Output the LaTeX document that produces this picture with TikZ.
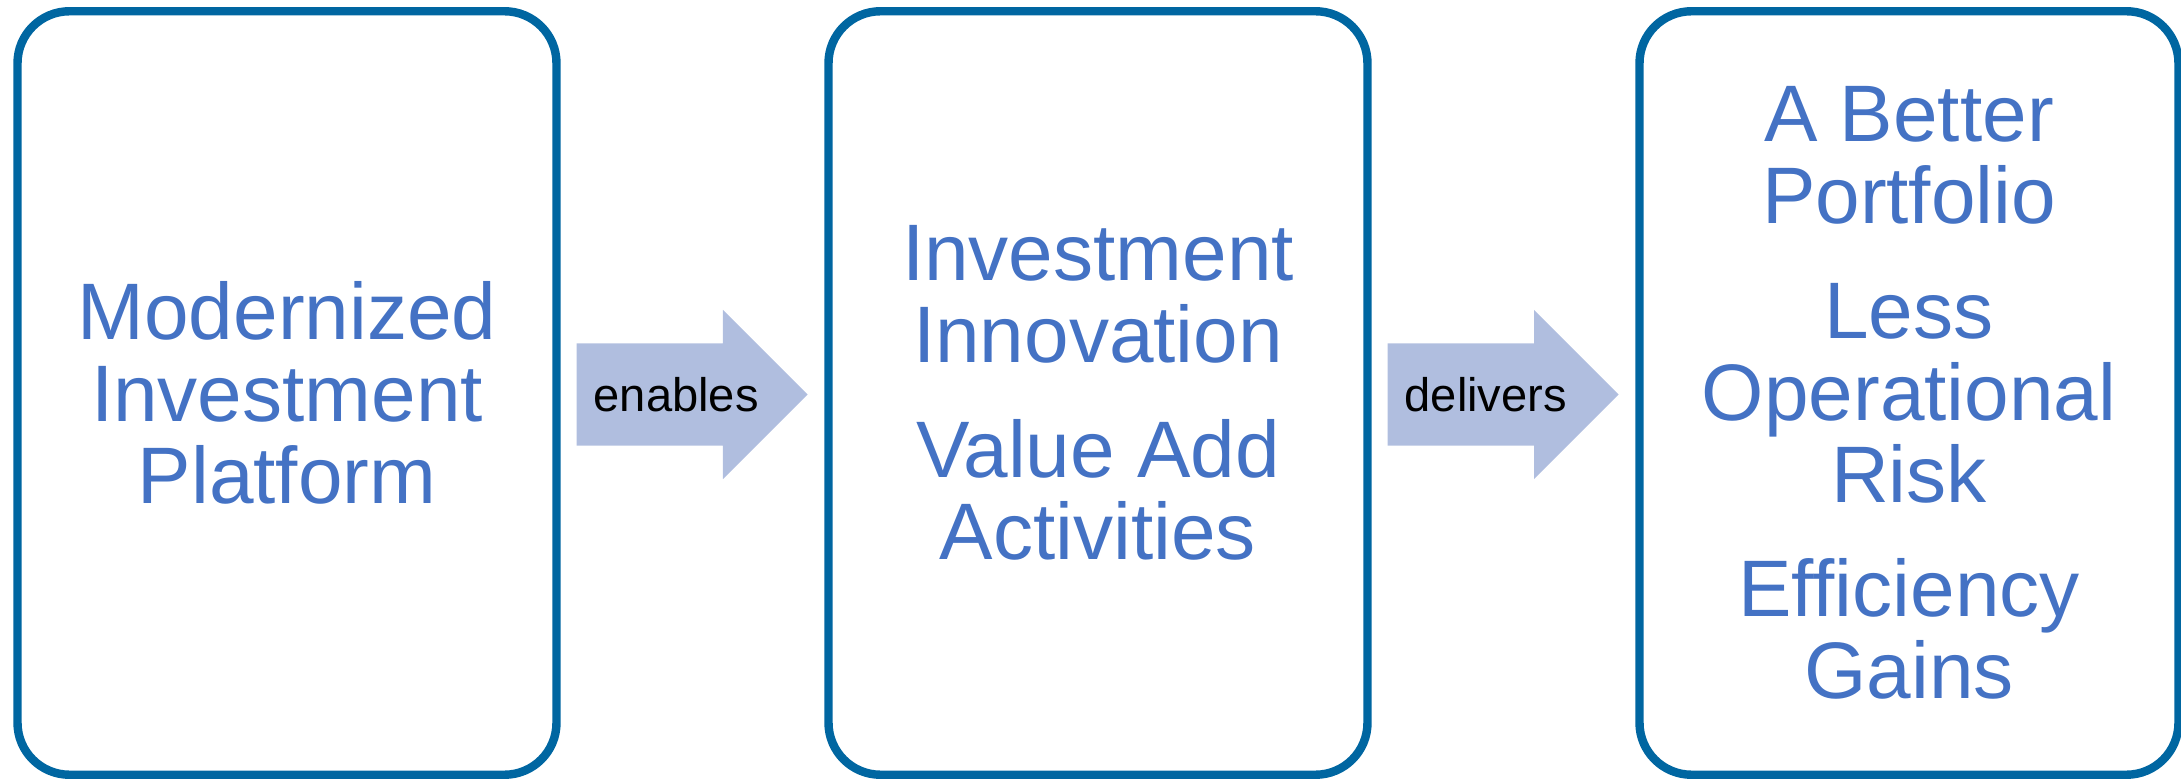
\documentclass[tikz,border=0pt]{standalone}
\usepackage{fontspec}
\usepackage{xcolor}
\usetikzlibrary{shapes.arrows}
\setmainfont{Liberation Sans}

\definecolor{stageline}{RGB}{0,102,161}
\definecolor{stagetext}{RGB}{68,114,196}
\definecolor{linkfill}{RGB}{176,190,223}

\tikzset{
    stage/.style={draw=stageline, line width=2.4pt, rounded corners=0.52cm,
        minimum width=5.39cm, minimum height=7.635cm, text=stagetext, align=center,
        font=\fontsize{22.8pt}{23.3pt}\selectfont},
    link/.style={single arrow, fill=linkfill, single arrow tip angle=90,
        single arrow head extend=0.335cm, minimum height=2.31cm,
        text height=0.34cm, text depth=0cm, inner ysep=0.335cm, inner xsep=2pt,
        anchor=tail},
    linklabel/.style={anchor=base west, inner sep=0pt, font=\fontsize{13.4pt}{15pt}\selectfont}
}

\begin{document}
\begin{tikzpicture}
        \useasboundingbox (0, 0) rectangle (21.81, 7.79);
        \node[stage](platform) at (2.87, 3.86) {Modernized\\Investment\\Platform};
        \node[stage](activities) at (10.98, 3.86) {Investment\\Innovation\\[9.4pt]Value Add\\Activities};
        \node[stage](gains) at (19.09, 3.86) {A Better\\Portfolio\\[9.4pt]Less\\Operational\\Risk\\[9.4pt]Efficiency\\Gains};
        \node[link](enables) at (5.76, 3.845) {};
        \node[link](delivers) at (13.87, 3.845) {};
        \node[linklabel](enablestext) at ([xshift=0.17cm, yshift=-0.175cm]enables.tail) {enables};
        \node[linklabel](deliverstext) at ([xshift=0.17cm, yshift=-0.175cm]delivers.tail) {delivers};
    \end{tikzpicture}
\end{document}
